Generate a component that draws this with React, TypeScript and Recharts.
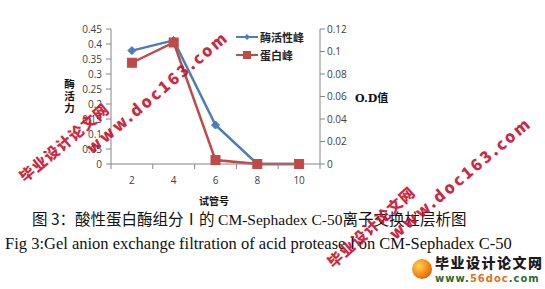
import React from "react";
import { LineChart, Line, XAxis, YAxis } from "recharts";

const tubes = ["2", "4", "6", "8", "10"];
const enzymeActivity = [0.378, 0.412, 0.13, 0, 0];
const proteinOD = [0.09, 0.108, 0.0035, 0, 0];
const leftTicks = [0, 0.05, 0.1, 0.15, 0.2, 0.25, 0.3, 0.35, 0.4, 0.45];
const rightTicks = [0, 0.02, 0.04, 0.06, 0.08, 0.1, 0.12];
const seriesNames = ["酶活性峰", "蛋白峰"];

const data = tubes.map((t, i) => ({ tube: t, enzyme: enzymeActivity[i], protein: proteinOD[i] }));

const BLUE = "#4A7EBB";
const RED = "#BE4B48";
const AXIS = "#868686";
const TICKFONT = "'Open Sans', 'Noto Sans', sans-serif";
const PLOT_W = 209;
const HALF_BAND = PLOT_W / tubes.length / 2;

const Diamond = (props: any) => {
  const { cx, cy } = props;
  if (cx == null || cy == null) return null;
  const r = 4;
  return <path d={`M${cx},${cy - r}L${cx + r},${cy}L${cx},${cy + r}L${cx - r},${cy}Z`} fill={BLUE} stroke={BLUE} />;
};
const Square = (props: any) => {
  const { cx, cy } = props;
  if (cx == null || cy == null) return null;
  return <rect x={cx - 4.5} y={cy - 4.5} width={9} height={9} fill={RED} stroke={RED} />;
};

const CategoryTick = (props: any) => {
  const { x, y, payload, index } = props;
  const top = y - 8;
  return (
    <g>
      <line x1={x - HALF_BAND} y1={top} x2={x - HALF_BAND} y2={top + 5} stroke={AXIS} />
      {index === tubes.length - 1 && (
        <line x1={x + HALF_BAND} y1={top} x2={x + HALF_BAND} y2={top + 5} stroke={AXIS} />
      )}
      <text x={x} y={y + 12} textAnchor="middle" fill="#404040" fontSize={10} fontFamily={TICKFONT}>
        {payload.value}
      </text>
    </g>
  );
};

const LegendBox = () => (
  <div style={{ position: "absolute", left: 236, top: 28, fontFamily: "'Noto Sans CJK SC', sans-serif", fontSize: 11, fontWeight: 700, color: "#222" }}>
    <div style={{ display: "flex", alignItems: "center", height: 18 }}>
      <svg width={22} height={10}>
        <line x1={0} y1={5} x2={22} y2={5} stroke={BLUE} strokeWidth={2} />
        <path d="M11,2L14,5L11,8L8,5Z" fill={BLUE} />
      </svg>
      <span style={{ marginLeft: 2 }}>{seriesNames[0]}</span>
    </div>
    <div style={{ display: "flex", alignItems: "center", height: 18 }}>
      <svg width={22} height={10}>
        <line x1={0} y1={5} x2={22} y2={5} stroke={RED} strokeWidth={2} />
        <rect x={7} y={1} width={8} height={8} fill={RED} />
      </svg>
      <span style={{ marginLeft: 2 }}>{seriesNames[1]}</span>
    </div>
  </div>
);

const wm = (text: string, left: number, top: number, size: number, spacing: number, deg: number) => (
  <div
    style={{
      position: "absolute",
      left,
      top,
      transform: `rotate(${deg}deg)`,
      transformOrigin: "0 0",
      color: "#C8102E",
      fontSize: size,
      fontWeight: 900,
      letterSpacing: spacing,
      whiteSpace: "nowrap",
      fontFamily: "'Noto Sans CJK SC', 'DejaVu Sans', sans-serif",
      opacity: 0.9,
      pointerEvents: "none",
    }}
  >
    {text}
  </div>
);

export default function App() {
  return (
    <div style={{ position: "absolute", left: 0, top: 0, width: 545, height: 289, background: "#fff", overflow: "hidden" }}>
      <LineChart width={545} height={289} data={data} margin={{ top: 29, right: 185, bottom: 95, left: 0 }}>
        <XAxis
          dataKey="tube"
          height={30}
          stroke={AXIS}
          tickLine={false}
          tick={<CategoryTick />}
          padding={{ left: HALF_BAND, right: HALF_BAND }}
          interval={0}
        />
        <YAxis
          yAxisId="left"
          width={111}
          domain={[0, 0.45]}
          ticks={leftTicks}
          interval={0}
          stroke={AXIS}
          tickLine={{ stroke: AXIS }}
          tickSize={5}
          tickMargin={4}
          tick={{ fill: "#404040", fontSize: 10, fontFamily: TICKFONT }}
          tickFormatter={(v: number) => String(v)}
        />
        <YAxis
          yAxisId="right"
          orientation="right"
          width={40}
          domain={[0, 0.12]}
          ticks={rightTicks}
          interval={0}
          stroke={AXIS}
          tickLine={{ stroke: AXIS }}
          tickSize={5}
          tick={{ fill: "#404040", fontSize: 10, fontFamily: TICKFONT }}
          tickFormatter={(v: number) => String(v)}
        />
        <Line
          yAxisId="left"
          dataKey="enzyme"
          name={seriesNames[0]}
          stroke={BLUE}
          strokeWidth={2.5}
          dot={<Diamond />}
          isAnimationActive={false}
        />
        <Line
          yAxisId="right"
          dataKey="protein"
          name={seriesNames[1]}
          stroke={RED}
          strokeWidth={2.5}
          dot={<Square />}
          isAnimationActive={false}
        />
      </LineChart>

      <LegendBox />

      <div style={{ position: "absolute", left: 63, top: 79, writingMode: "vertical-rl", textOrientation: "upright", fontFamily: "'Noto Sans CJK SC', sans-serif", fontSize: 10.5, fontWeight: 700, letterSpacing: 1.5, lineHeight: "12px", color: "#111" }}>
        酶活力
      </div>
      <div style={{ position: "absolute", left: 355, top: 89, fontFamily: "'DejaVu Serif', 'Noto Sans CJK SC', serif", fontSize: 11, fontWeight: 700, color: "#111", whiteSpace: "nowrap" }}>
        O.D值
      </div>
      <div style={{ position: "absolute", left: 199, top: 193, fontFamily: "'Noto Sans CJK SC', sans-serif", fontSize: 10, fontWeight: 700, color: "#111", whiteSpace: "nowrap" }}>
        试管号
      </div>

      <div style={{ position: "absolute", left: 32, top: 207, fontFamily: "'Noto Sans CJK SC', 'Liberation Serif', serif", fontSize: 15.5, color: "#111", whiteSpace: "nowrap" }}>
        图 3：酸性蛋白酶组分Ⅰ的 <span style={{ fontFamily: "'Liberation Serif', serif" }}>CM-Sephadex C-50</span>离子交换柱层析图
      </div>
      <div style={{ position: "absolute", left: 5, top: 234, fontFamily: "'Liberation Serif', serif", fontSize: 16.5, color: "#111", whiteSpace: "nowrap" }}>
        Fig 3:Gel anion exchange filtration of acid protease Ⅰ on CM-Sephadex C-50
      </div>

      <div style={{ position: "absolute", left: 412, top: 259, width: 20, height: 20, borderRadius: 10, background: "radial-gradient(circle at 35% 35%, #ffd34d, #f07a10 60%, #b33a00)" }} />
      <div style={{ position: "absolute", left: 435, top: 252, fontFamily: "'Noto Sans CJK SC', sans-serif", fontSize: 14, fontWeight: 900, color: "#1a1a1a", letterSpacing: 1.5, whiteSpace: "nowrap" }}>
        毕业设计论文网
      </div>
      <div style={{ position: "absolute", left: 435, top: 273, fontFamily: "'DejaVu Sans', sans-serif", fontSize: 10, fontWeight: 700, color: "#2e6b2e", letterSpacing: 1, whiteSpace: "nowrap" }}>
        www.<span style={{ color: "#e0711c" }}>56doc</span>.com
      </div>

      {wm("毕业设计论文网", 14, 170, 15, 1, -40)}
      {wm("www.doc163.com", 80, 140, 16, 2.5, -40)}
      {wm("毕业设计论文网", 322, 256, 15, 1, -42)}
      {wm("www.doc163.com", 383, 226, 16, 2.5, -40)}
    </div>
  );
}
